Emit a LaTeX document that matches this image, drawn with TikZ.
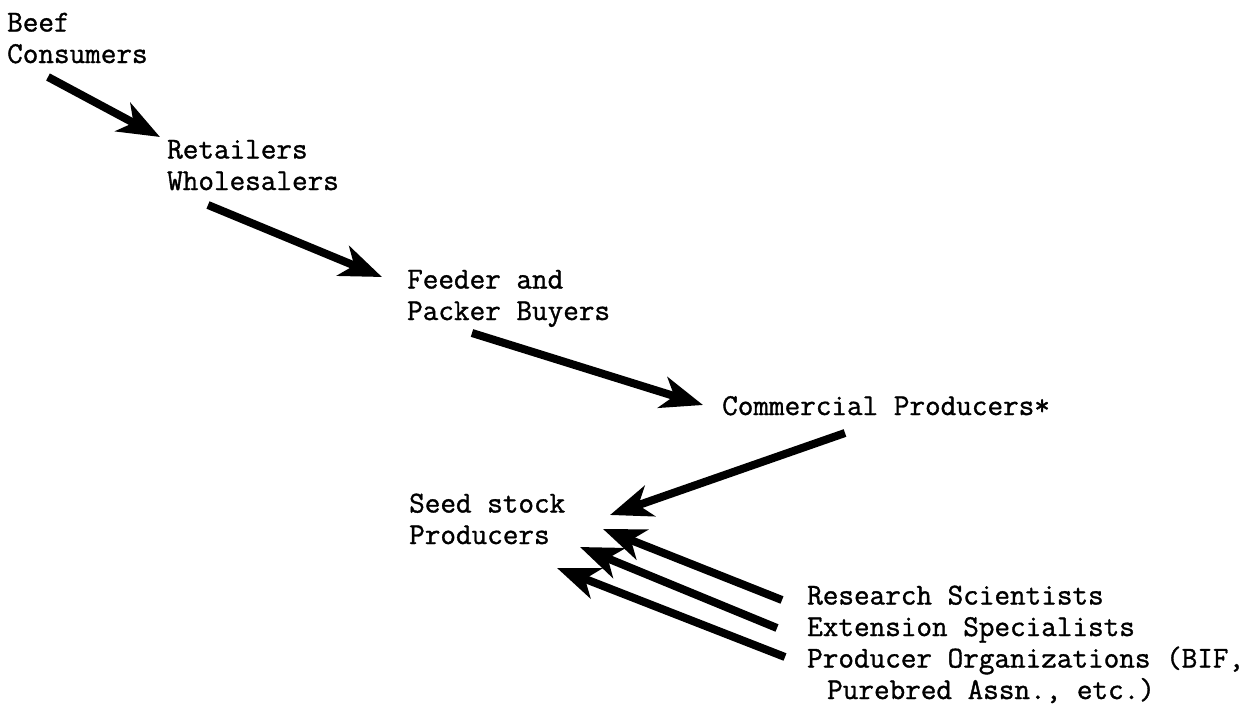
\documentclass[tikz,border=0pt]{standalone}
\usepackage{fontspec}
\newfontfamily\typewr{Latin Modern Mono}[FakeBold=1.2]
\usetikzlibrary{arrows.meta}

\begin{document}
\begin{tikzpicture}[
    x=1pt, y=-1pt,
    every edge/.style={-{Stealth[length=42pt,width=32pt,inset=12pt]}, draw, line width=8pt},
    every node/.style={font=\typewr\fontsize{30.3}{31.5}\selectfont, anchor=base west,
align=left, inner sep=0pt}]

    \useasboundingbox (0,0) rectangle (1255,707);

    % base anchor sits on the last line
    \node (beef) at (7,63) {Beef\\Consumers};
    \node (retail) at (167,190) {Retailers\\Wholesalers};
    \node (feeder) at (407,320) {Feeder and\\Packer Buyers};
    \node (comm) at (722,415) {Commercial Producers*};
    \node (seed) at (409,544) {Seed stock\\Producers};
    \node (helpers) at (807,699) {Research Scientists\\Extension Specialists\\Producer Organizations (BIF,\\\hspace*{20pt}Purebred Assn., etc.)};

    % free ends of the arrows
    \coordinate (beef-out) at (48,77);
    \coordinate (retail-in) at (160,137);
    \coordinate (retail-out) at (208,205);
    \coordinate (feeder-in) at (382,277);
    \coordinate (feeder-out) at (472,333);
    \coordinate (comm-in) at (703,405);
    \coordinate (comm-out) at (845,433);
    \coordinate (seed-in) at (610,515);
    \coordinate (res-out) at (782,600);
    \coordinate (res-in) at (603,529);
    \coordinate (ext-out) at (777,628);
    \coordinate (ext-in) at (580,547);
    \coordinate (org-out) at (785,657);
    \coordinate (org-in) at (557,568);

    \path (beef-out) edge (retail-in);
    \path (retail-out) edge (feeder-in);
    \path (feeder-out) edge (comm-in);
    \path (comm-out) edge (seed-in);
        \path (res-out) edge (res-in);
        \path (ext-out) edge (ext-in);
        \path (org-out) edge (org-in);

\end{tikzpicture}
\end{document}
